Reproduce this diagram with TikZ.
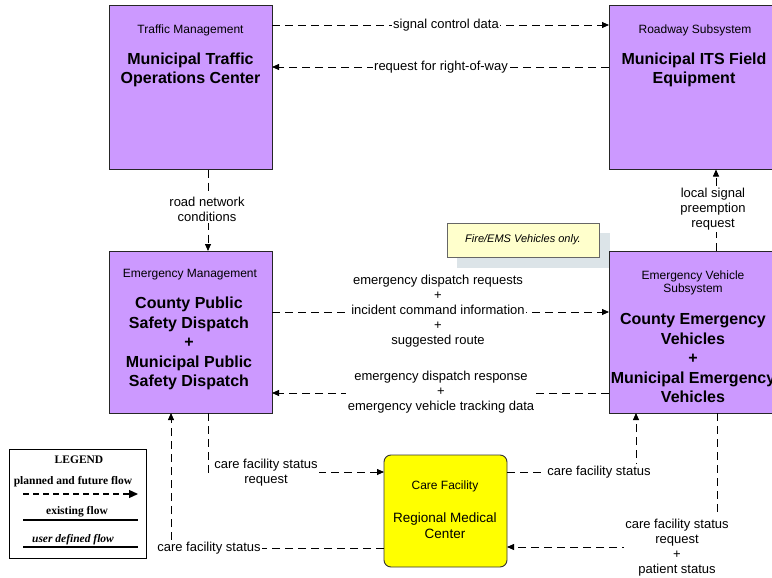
\documentclass[tikz,border=0pt]{standalone}
\usepackage{fontspec}
\setmainfont{Liberation Sans}
\newfontfamily\legendfont{Liberation Serif}
\usetikzlibrary{arrows.meta}
\definecolor{boxpurple}{RGB}{204,153,255}
\definecolor{cfyellow}{RGB}{255,255,0}
\definecolor{notefill}{RGB}{255,255,204}
\definecolor{noteshadow}{RGB}{220,228,232}
\begin{document}
\begin{tikzpicture}[x=1pt,y=-1pt,
 every node/.style={inner sep=0pt, outer sep=0pt},
 elem/.style={draw=black!85, line width=0.9pt, fill=boxpurple, anchor=north west},
 stereo/.style={font=\fontsize{12}{13}\selectfont, align=center},
 ttl/.style={font=\fontsize{16}{19.5}\selectfont\bfseries, align=center},
 flow/.style={draw, line width=0.8pt, dash pattern=on 8pt off 5pt, -{Triangle[length=7pt,width=6pt]}},
 lbl/.style={font=\fontsize{13}{15}\selectfont, align=center, fill=white, inner sep=1.5pt},
 lgtext/.style={font=\legendfont\bfseries\fontsize{11.5}{13}\selectfont},
]
\useasboundingbox (0,0) rectangle (772,578);
\fill[white] (0,0) rectangle (772,578);

% note with shadow
\fill[noteshadow] (457,233) rectangle (610,268);
\node[draw=black!60, line width=0.7pt, fill=notefill, minimum width=152, minimum height=34, anchor=north west] (note) at (447,223) {};
\node[font=\fontsize{11}{13}\selectfont\itshape] (notetxt) at (523,240) {Fire/EMS Vehicles only.};

% elements
\node[elem, minimum width=163, minimum height=164] (tmc) at (109,5.5) {};
\node[elem, minimum width=166, minimum height=164] (rw) at (609,5.5) {};
\node[elem, minimum width=163, minimum height=162] (em) at (109,251) {};
\node[elem, minimum width=166, minimum height=162] (ev) at (609,251) {};
\node[draw=black!80, line width=0.9pt, fill=cfyellow, rounded corners=7pt, minimum width=123, minimum height=112, anchor=north west] (cf) at (384,455) {};

\node[stereo] (tmcst) at (190.5,30) {Traffic Management};
\node[ttl] (tmctt) at (190.5,70) {Municipal Traffic\\Operations Center};
\node[stereo] (rwst) at (695,30) {Roadway Subsystem};
\node[ttl] (rwtt) at (694,70) {Municipal ITS Field\\Equipment};
\node[stereo] (emst) at (190,275) {Emergency Management};
\node[ttl] (emtt) at (189,343.5) {County Public\\Safety Dispatch\\+\\Municipal Public\\Safety Dispatch};
\node[stereo] (evst) at (693,282.5) {Emergency Vehicle\\Subsystem};
\node[ttl] (evtt) at (693,358) {County Emergency\\Vehicles\\+\\Municipal Emergency\\Vehicles};
\node[stereo] (cfst) at (445,486) {Care Facility};
\node[font=\fontsize{13.5}{16}\selectfont, align=center] (cftt) at (445,526) {Regional Medical\\Center};

% flows
\draw[flow] (tmc.east |- 0,25) -- (rw.west |- 0,25);
\draw[flow] (rw.west |- 0,67) -- (tmc.east |- 0,67);
\draw[flow] (208,0 |- tmc.south) -- (208,0 |- em.north);
\draw[flow] (716,0 |- ev.north) -- (716,0 |- rw.south);
\draw[flow] (em.east |- 0,312) -- (ev.west |- 0,312);
\draw[flow] (ev.west |- 0,393) -- (em.east |- 0,393);
\draw[flow] (208,0 |- em.south) |- (cf.west |- 0,472);
\draw[flow] (cf.west |- 0,548) -| (171,0 |- em.south);
\draw[flow] (cf.east |- 0,472) -| (636,0 |- ev.south);
\draw[flow] (717,0 |- ev.south) |- (cf.east |- 0,547);

% flow labels
\node[lbl] (l1) at (446,25) {signal control data};
\node[lbl] (l2) at (441,67) {request for right-of-way};
\node[lbl] (l3) at (207,209) {road network\\conditions};
\node[lbl] (l4) at (713,209) {local signal\\preemption\\request};
\node[lbl] (l5) at (438,311.5) {emergency dispatch requests\\+\\incident command information\\+\\suggested route};
\node[lbl] (l6) at (441,392) {emergency dispatch response\\+\\emergency vehicle tracking data};
\node[lbl] (l7) at (266,472.5) {care facility status\\request};
\node[lbl] (l8) at (209,548) {care facility status};
\node[lbl] (l9) at (599,472) {care facility status};
\node[lbl] (l10) at (677,547.5) {care facility status\\request\\+\\patient status};

% legend
\node[draw, line width=1.3pt, minimum width=137, minimum height=109, anchor=north west] (legend) at (9.5,449.5) {};
\node[lgtext] (lgtitle) at (79,460) {LEGEND};
\node[lgtext] (lgplan) at (73,482) {planned and future flow};
\coordinate (lgp1) at (23,494);
\coordinate (lgp2) at (138,494);
\draw[line width=1.2pt, dash pattern=on 6pt off 4pt, -{Triangle[length=9pt,width=8pt]}] (lgp1) -- (lgp2);
\node[lgtext] (lgex) at (77,512) {existing flow};
\coordinate (lge1) at (23,520);
\coordinate (lge2) at (138,520);
\draw[line width=1.2pt] (lge1) -- (lge2);
\node[lgtext] (lgud) at (73,540) {\itshape user defined flow};
\coordinate (lgu1) at (23,547);
\coordinate (lgu2) at (138,547);
\draw[line width=1.5pt] (lgu1) -- (lgu2);
\end{tikzpicture}
\end{document}
